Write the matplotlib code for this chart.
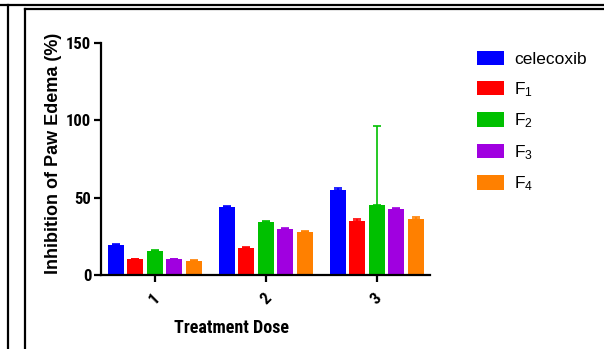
import matplotlib
matplotlib.use("Agg")
import matplotlib.pyplot as plt
from matplotlib import font_manager as fm
import numpy as np
from matplotlib.lines import Line2D

plt.rcParams['font.family'] = ['Liberation Sans', 'DejaVu Sans']
plt.rcParams['mathtext.fontset'] = 'custom'
plt.rcParams['mathtext.rm'] = 'Liberation Sans'
plt.rcParams['mathtext.it'] = 'Liberation Sans'

_avail = {f.name for f in fm.fontManager.ttflist}
_cands = ['Liberation Sans Narrow', 'Arial Narrow', 'Arimo Narrow', 'Roboto Condensed',
          'Archivo Narrow', 'PT Sans Narrow', 'Liberation Sans']
NARROW = next(c for c in _cands if c in _avail or c == 'Liberation Sans')

doses = ["1", "2", "3"]
series = ["celecoxib", "F$_1$", "F$_2$", "F$_3$", "F$_4$"]
celecoxib = [19.2, 44.2, 55.2]
f1 = [10.1, 17.7, 35.1]
f2 = [15.7, 34.0, 45.0]
f3 = [10.1, 30.0, 42.7]
f4 = [9.0, 28.0, 36.4]
celecoxib_err = [0.6, 0.6, 0.8]
f1_err = [0.5, 0.6, 0.8]
f2_err = [0.6, 0.8, 51.5]
f3_err = [0.5, 0.6, 0.8]
f4_err = [0.5, 0.5, 0.8]
colors = ["#0000FF", "#FF0000", "#00C000", "#A000E0", "#FF8000"]

values = [celecoxib, f1, f2, f3, f4]
errors = [celecoxib_err, f1_err, f2_err, f3_err, f4_err]

fig = plt.figure(figsize=(6.04, 3.49), dpi=100)
ax = fig.add_axes([101/604, 1-275/349, (430-101)/604, (275-43)/349])

x = np.arange(1, len(doses)+1)
step = 0.1757
width = 0.144
for i, (vals, errs, c, lab) in enumerate(zip(values, errors, colors, series)):
    pos = x + (i-2)*step
    ax.bar(pos, vals, width=width, color=c, label=lab, zorder=2)
    ax.errorbar(pos, vals, yerr=[np.zeros(len(errs)), errs], fmt='none',
                ecolor=c, elinewidth=1.2, capsize=3, capthick=1.2, zorder=3)

ax.set_xlim(0.514, 3.48)
ax.set_ylim(0, 150)
ax.set_yticks([0, 50, 100, 150])
ax.set_xticks(x)
ax.set_xticklabels(doses, rotation=45, fontsize=12, fontweight='bold', family=NARROW)
for t in ax.get_yticklabels():
    t.set_fontsize(12)
    t.set_fontweight('bold')
    t.set_family(NARROW)
for s in ['top', 'right']:
    ax.spines[s].set_visible(False)
for s in ['left', 'bottom']:
    ax.spines[s].set_linewidth(1.6)
ax.tick_params(axis='both', width=1.6, length=5, pad=2)
ax.tick_params(axis='x', pad=6)
ax.set_ylabel("Inhibition of Paw Edema (%)", fontsize=13, fontweight='bold')
ax.yaxis.set_label_coords(-0.12, 0.525)
ax.set_xlabel("Treatment Dose", fontsize=13, fontweight='bold', family=NARROW)
ax.xaxis.set_label_coords((231-101)/329, -0.19)

leg = ax.legend(loc='upper left', bbox_to_anchor=(470/604, 1-44/349),
                bbox_transform=fig.transFigure, frameon=False, fontsize=12.5,
                handlelength=1.55, handleheight=0.9, labelspacing=0.74,
                handletextpad=0.6, borderaxespad=0)

# page frame lines
fig.add_artist(Line2D([0, 1], [1-4.5/349]*2, transform=fig.transFigure, color='black', lw=1.6))
fig.add_artist(Line2D([8/604]*2, [0, 1-4.5/349], transform=fig.transFigure, color='black', lw=1.6))
fig.add_artist(Line2D([25/604, 1], [1-9/349]*2, transform=fig.transFigure, color='black', lw=1.6))
fig.add_artist(Line2D([25/604]*2, [0, 1-9/349], transform=fig.transFigure, color='black', lw=1.6))

fig.savefig("out.png", dpi=100)
